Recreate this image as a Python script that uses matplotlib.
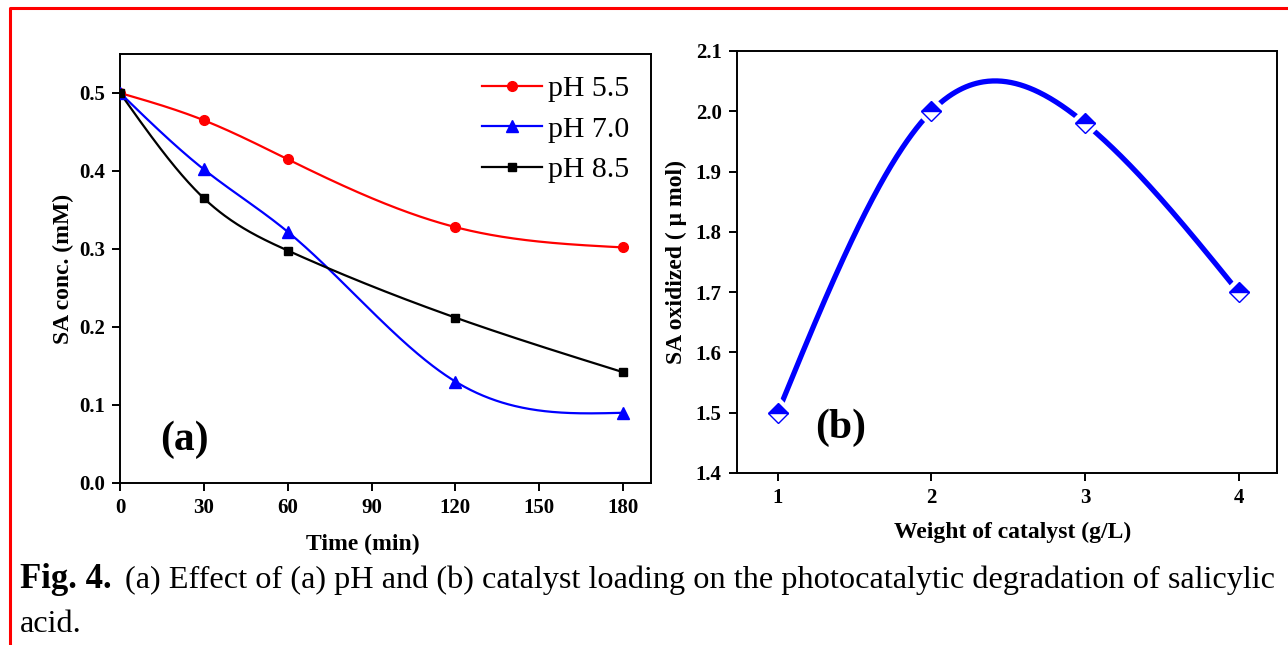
import matplotlib
matplotlib.use('Agg')
import matplotlib.pyplot as plt
from matplotlib.lines import Line2D
import numpy as np

# (a) effect of pH
time_min = [0, 30, 60, 120, 180]
ph55 = [0.500, 0.465, 0.415, 0.328, 0.302]
ph70 = [0.500, 0.402, 0.322, 0.130, 0.090]
ph85 = [0.500, 0.365, 0.298, 0.212, 0.142]
ph_labels = ['pH 5.5', 'pH 7.0', 'pH 8.5']

# (b) catalyst loading
catalyst = [1, 2, 3, 4]
sa_oxidized = [1.50, 2.00, 1.98, 1.70]


def spline(x, y, xs):
    # natural cubic spline, like the smooth line in the original
    x = np.asarray(x, float)
    y = np.asarray(y, float)
    n = len(x)
    h = np.diff(x)
    A = np.zeros((n, n))
    r = np.zeros(n)
    A[0, 0] = A[-1, -1] = 1
    for i in range(1, n - 1):
        A[i, i - 1] = h[i - 1]
        A[i, i] = 2 * (h[i - 1] + h[i])
        A[i, i + 1] = h[i]
        r[i] = 6 * ((y[i + 1] - y[i]) / h[i] - (y[i] - y[i - 1]) / h[i - 1])
    M = np.linalg.solve(A, r)
    k = np.clip(np.searchsorted(x, xs) - 1, 0, n - 2)
    hk = h[k]
    a = (x[k + 1] - xs) / hk
    b = (xs - x[k]) / hk
    return (a * y[k] + b * y[k + 1]
            + ((a ** 3 - a) * M[k] + (b ** 3 - b) * M[k + 1]) * hk ** 2 / 6)


plt.rcParams['font.family'] = ['Liberation Serif', 'DejaVu Serif']

fig = plt.figure(figsize=(12.88, 6.45), dpi=100)

ax1 = fig.add_axes([0.0932, 0.2512, 0.4123, 0.6651])
ax2 = fig.add_axes([0.5722, 0.2667, 0.4193, 0.6543])

# ---- panel (a)
xs = np.linspace(0, 180, 400)
styles = [(ph55, 'red', 'o', 7), (ph70, 'blue', '^', 8), (ph85, 'black', 's', 6)]
handles = []
for (vals, col, mk, ms), lab in zip(styles, ph_labels):
    ax1.plot(xs, spline(time_min, vals, xs), color=col, lw=1.6, zorder=2)
    ax1.plot(time_min, vals, ls='none', marker=mk, ms=ms, color=col, zorder=3)
    handles.append(Line2D([], [], color=col, lw=1.6, marker=mk, ms=ms, label=lab))

ax1.set_xlim(0, 190)
ax1.set_ylim(0, 0.55)
ax1.set_xticks([0, 30, 60, 90, 120, 150, 180])
ax1.set_yticks([0.0, 0.1, 0.2, 0.3, 0.4, 0.5])
ax1.set_yticklabels(['0.0', '0.1', '0.2', '0.3', '0.4', '0.5'])
ax1.set_xlabel('Time (min)', fontsize=17, weight='bold')
ax1.set_ylabel('SA conc. (mM)', fontsize=17, weight='bold')
ax1.xaxis.set_label_coords(0.458, -0.118)
ax1.yaxis.set_label_coords(-0.087, 0.5)
ax1.legend(handles=handles, loc='upper left', bbox_to_anchor=(0.682, 0.95),
           frameon=False, fontsize=21.5, handlelength=2.0, handletextpad=0.2,
           labelspacing=0.45, borderpad=0, borderaxespad=0)
ax1.text(0.075, 0.1, '(a)', transform=ax1.transAxes, fontsize=30,
         weight='bold', va='center', ha='left')

# ---- panel (b)
xb = np.linspace(1, 4, 400)
yb = spline(catalyst, sa_oxidized, xb)
ax2.plot(xb, yb, color='blue', lw=3.8, zorder=2, solid_capstyle='round')
ax2.plot(catalyst, sa_oxidized, ls='none', marker='D', ms=16, color='white',
         mec='white', zorder=3)
ax2.plot(catalyst, sa_oxidized, ls='none', marker='D', ms=10, color='blue',
         fillstyle='top', markerfacecoloralt='white', mec='blue', mew=1.0,
         zorder=4)

ax2.set_xlim(0.735, 4.25)
ax2.set_ylim(1.4, 2.1)
ax2.set_xticks([1, 2, 3, 4])
ax2.set_yticks([1.4, 1.5, 1.6, 1.7, 1.8, 1.9, 2.0, 2.1])
ax2.set_yticklabels(['1.4', '1.5', '1.6', '1.7', '1.8', '1.9', '2.0', '2.1'])
ax2.set_xlabel('Weight of catalyst (g/L)', fontsize=17, weight='bold')
ax2.set_ylabel('SA oxidized ( \u03bc mol)', fontsize=17, weight='bold')
ax2.xaxis.set_label_coords(0.51, -0.116)
ax2.yaxis.set_label_coords(-0.092, 0.5)
ax2.text(0.144, 0.107, '(b)', transform=ax2.transAxes, fontsize=30,
         weight='bold', va='center', ha='left')

for ax in (ax1, ax2):
    for s in ax.spines.values():
        s.set_linewidth(1.4)
    ax.tick_params(direction='out', length=6, width=1.4, labelsize=15,
                   pad=5, top=False, right=False)
    for t in ax.get_xticklabels() + ax.get_yticklabels():
        t.set_fontweight('bold')

# caption
fig.text(20 / 1288, 1 - 580 / 645, 'Fig. 4.', fontsize=25, weight='bold',
         va='center', ha='left')
fig.text(125 / 1288, 1 - 580 / 645,
         '(a) Effect of (a) pH and (b) catalyst loading on the photocatalytic '
         'degradation of salicylic', fontsize=23.2, va='center', ha='left')
fig.text(20 / 1288, 1 - 625 / 645, 'acid.', fontsize=23.2, va='center', ha='left')

# red frame (top and left edges visible)
fig.add_artist(Line2D([10 / 1288, 10 / 1288, 1.0], [0.0, 1 - 8 / 645, 1 - 8 / 645],
                      transform=fig.transFigure, color='red', lw=2.2))

fig.savefig('out.png', dpi=100)
